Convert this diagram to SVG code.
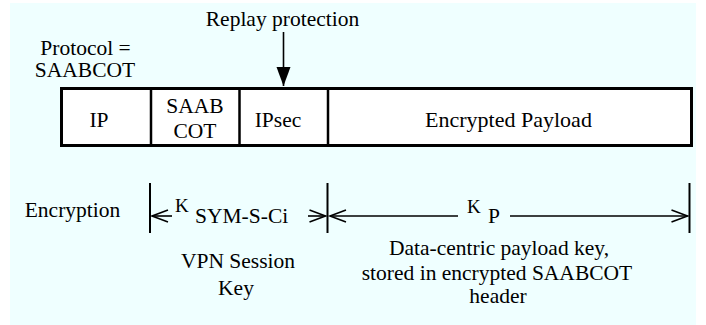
<svg xmlns="http://www.w3.org/2000/svg" width="706" height="325" viewBox="0 0 706 325">
  <style>
    text { font-family: "Liberation Serif", "Times New Roman", serif; font-size: 21.5px; fill: #000; text-anchor: middle; }
    .big { font-size: 22px; }
    .sub { font-size: 19px; }
    .start { text-anchor: start; }
    .cell { fill: #fff; stroke: none; }
    .frame { fill: none; stroke: #000; stroke-width: 3; }
    .div { stroke: #000; stroke-width: 2.5; }
    .bar { stroke: #000; stroke-width: 2; }
    .dim { stroke: #000; stroke-width: 1.6; fill: none; }
  </style>
  <defs>
    <marker id="vee" markerUnits="userSpaceOnUse" markerWidth="20" markerHeight="16" refX="17" refY="7" orient="auto-start-reverse">
      <path d="M1,1 L17,7 L1,13" fill="none" stroke="#000" stroke-width="1.6"/>
    </marker>
    <marker id="tri" markerUnits="userSpaceOnUse" markerWidth="20" markerHeight="16" refX="19" refY="7" orient="auto">
      <path d="M0,0 L19,7 L0,14 Z" fill="#000"/>
    </marker>
  </defs>

  <!-- page background -->
  <rect x="10" y="3" width="686" height="322" fill="#EFFFFF"/>

  <g id="replay-label">
    <text x="282.5" y="26">Replay protection</text>
  </g>
  <g id="protocol-label">
    <text x="85.5" y="55">Protocol =</text>
    <text x="85" y="77">SAABCOT</text>
  </g>

  <!-- packet fields -->
  <g id="packet">
    <rect class="cell" x="61.5" y="88.5" width="630" height="57"/>
    <g id="field-ip">
      <text x="99" y="127">IP</text>
    </g>
    <g id="field-saabcot">
      <line class="div" x1="151" y1="88" x2="151" y2="146"/>
      <text x="195" y="113">SAAB</text>
      <text x="195" y="138">COT</text>
    </g>
    <g id="field-ipsec">
      <line class="div" x1="239.5" y1="88" x2="239.5" y2="146"/>
      <text x="278" y="127">IPsec</text>
    </g>
    <g id="field-payload">
      <line class="div" x1="328" y1="88" x2="328" y2="146"/>
      <text class="big" x="508.5" y="127">Encrypted Payload</text>
    </g>
    <rect class="frame" x="61.5" y="88.5" width="630" height="57"/>
  </g>

  <!-- encryption scope row -->
  <g id="encryption-label">
    <text x="72.5" y="217">Encryption</text>
  </g>
  <g id="session-key">
    <text class="sub start" x="175" y="212">K</text>
    <text class="start" x="195" y="223">SYM-S-Ci</text>
    <text x="238" y="268">VPN Session</text>
    <text x="236" y="295">Key</text>
  </g>
  <g id="payload-key">
    <text class="sub start" x="467" y="213">K</text>
    <text class="start" x="488" y="223">P</text>
    <text x="499" y="255">Data-centric payload key,</text>
    <text x="497" y="280">stored in encrypted SAABCOT</text>
    <text x="498" y="303">header</text>
  </g>

  <!-- connectors -->
  <g id="connectors">
    <line class="dim" x1="283.5" y1="32" x2="283.5" y2="86" marker-end="url(#tri)"/>
    <line class="bar" x1="150" y1="183" x2="150" y2="233"/>
    <line class="bar" x1="327.5" y1="183" x2="327.5" y2="233"/>
    <line class="bar" x1="689.5" y1="183" x2="689.5" y2="233"/>
    <line class="dim" x1="172" y1="216" x2="152" y2="216" marker-end="url(#vee)"/>
    <line class="dim" x1="308" y1="216" x2="325.5" y2="216" marker-end="url(#vee)"/>
    <line class="dim" x1="458" y1="216" x2="330" y2="216" marker-end="url(#vee)"/>
    <line class="dim" x1="510" y1="216" x2="687.5" y2="216" marker-end="url(#vee)"/>
  </g>
</svg>
